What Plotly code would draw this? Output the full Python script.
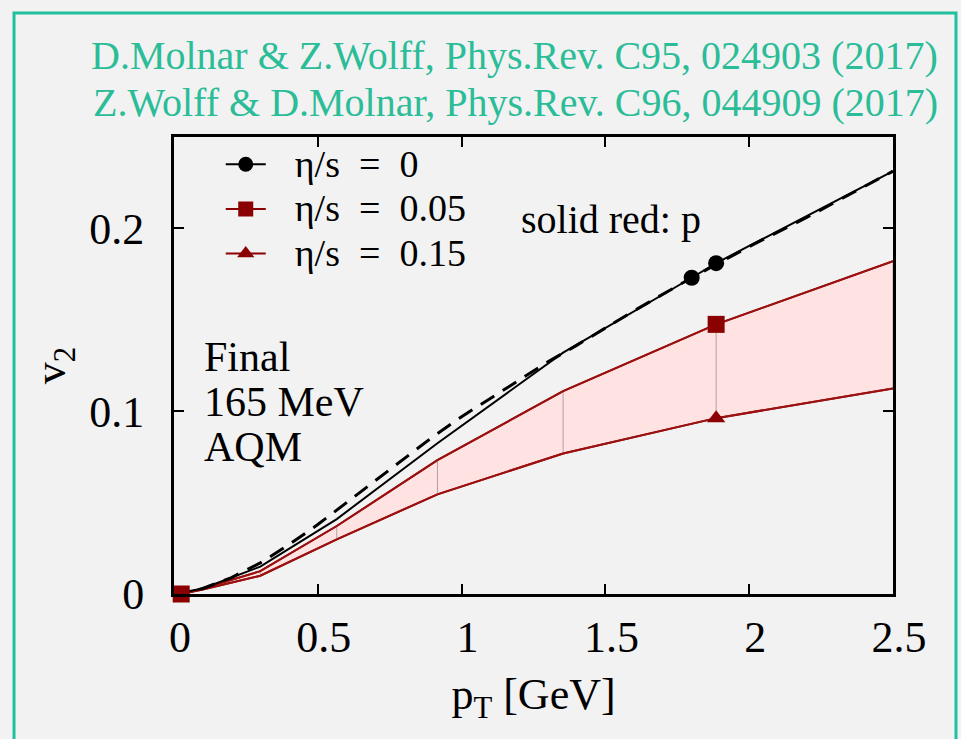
import plotly.graph_objects as go

# Elliptic flow v2 vs pT, AQM, final state at 165 MeV
pt_ideal = [0.0, 0.1, 0.3, 0.566, 0.916, 1.353, 1.8, 1.885, 2.5]
v2_ideal = [0.0, 0.003, 0.015, 0.041, 0.0825, 0.132, 0.173, 0.181, 0.2313]
ideal_marked = [1.8, 1.885]
ideal_marked_v2 = [0.173, 0.181]

# dashed reference curve (eta/s = 0)
pt_dash = [0.0, 0.1, 0.2, 0.3, 0.4, 0.5, 0.6, 0.7, 0.8, 0.9, 1.0, 1.1, 1.2, 1.3,
           1.4, 1.6, 1.8, 2.0, 2.2, 2.5]
v2_dash = [0.0, 0.003, 0.009, 0.017, 0.027, 0.038, 0.050, 0.062, 0.074, 0.086, 0.097,
           0.107, 0.117, 0.127, 0.136, 0.155, 0.173, 0.190, 0.206, 0.2313]

pt_visc = [0.025, 0.1, 0.3, 0.566, 0.916, 1.353, 1.885, 2.5]
v2_eta005 = [0.0, 0.003, 0.0125, 0.0372, 0.0732, 0.111, 0.1475, 0.1821]
v2_eta015 = [0.0, 0.0025, 0.0100, 0.0299, 0.0545, 0.0769, 0.0962, 0.1124]
visc_marked_idx = [0, 6]
eta015_marked_idx = [6]

x_ticks = [0, 0.5, 1, 1.5, 2, 2.5]
x_ticklabels = ["0", "0.5", "1", "1.5", "2", "2.5"]
y_ticks = [0, 0.1, 0.2]
y_ticklabels = ["0", "0.1", "0.2"]

legend_names = ["η/s\u2002=\u20020", "η/s\u2002=\u20020.05", "η/s\u2002=\u20020.15"]
citations = ["D.Molnar &amp; Z.Wolff, Phys.Rev. C95, 024903 (2017)",
             "Z.Wolff &amp; D.Molnar, Phys.Rev. C96, 044909 (2017)"]
label_lines = ["Final", "165 MeV", "AQM"]

BG = "#f2f2f2"
DARKRED = "#8b0000"
LINERED = "#9b1010"
PINK = "#ffe3e3"
TEAL = "#2bbc98"
SERIF = "Liberation Serif"

fig = go.Figure()

# shaded band between the two viscous results
fig.add_trace(go.Scatter(x=pt_visc, y=v2_eta015, mode="lines",
                         line=dict(color=LINERED, width=2), showlegend=False,
                         hoverinfo="skip"))
fig.add_trace(go.Scatter(x=pt_visc, y=v2_eta005, mode="lines", fill="tonexty",
                         fillcolor=PINK, line=dict(color=LINERED, width=2),
                         showlegend=False))

# thin connectors between the band edges
cx, cy = [], []
for p, lo, hi in zip(pt_visc[1:], v2_eta015[1:], v2_eta005[1:]):
    cx += [p, p, None]
    cy += [lo, hi, None]
fig.add_trace(go.Scatter(x=cx, y=cy, mode="lines",
                         line=dict(color="#b0a0a0", width=1), showlegend=False,
                         hoverinfo="skip"))
# redraw band edges on top of connectors
fig.add_trace(go.Scatter(x=pt_visc, y=v2_eta015, mode="lines",
                         line=dict(color=LINERED, width=2), showlegend=False))
fig.add_trace(go.Scatter(x=pt_visc, y=v2_eta005, mode="lines",
                         line=dict(color=LINERED, width=2), showlegend=False))

# ideal results
fig.add_trace(go.Scatter(x=pt_dash, y=v2_dash, mode="lines",
                         line=dict(color="black", width=3, dash="16px,10px"),
                         showlegend=False))
fig.add_trace(go.Scatter(x=pt_ideal, y=v2_ideal, mode="lines",
                         line=dict(color="black", width=2), showlegend=False))
fig.add_trace(go.Scatter(x=ideal_marked, y=ideal_marked_v2, mode="markers",
                         marker=dict(symbol="circle", size=16, color="black"),
                         showlegend=False))

# markers on the viscous curves
fig.add_trace(go.Scatter(x=[pt_visc[i] for i in visc_marked_idx],
                         y=[v2_eta005[i] for i in visc_marked_idx], mode="markers",
                         marker=dict(symbol="square", size=17, color=DARKRED),
                         cliponaxis=False, showlegend=False))
fig.add_trace(go.Scatter(x=[pt_visc[i] for i in eta015_marked_idx],
                         y=[v2_eta015[i] for i in eta015_marked_idx], mode="markers",
                         marker=dict(symbol="triangle-up", size=16, color=DARKRED),
                         showlegend=False))

# legend entries (row pitch set by legend font, glyphs enlarged via span)
leg_styles = [("black", "circle"), (DARKRED, "square"), (DARKRED, "triangle-up")]
span_style = "font-family:'Liberation Serif',serif;font-size:38px"
for name, (col, sym) in zip(legend_names, leg_styles):
    fig.add_trace(go.Scatter(
        x=[None], y=[None], mode="lines+markers",
        name="\u00a0\u00a0\u00a0<span style=\"" + span_style + "\">" + name + "</span>",
        line=dict(color=col, width=2),
        marker=dict(symbol=sym, size=15, color=col)))

axis_common = dict(showline=True, linecolor="black", linewidth=3, mirror="ticks",
                   ticks="inside", ticklen=10, tickwidth=2, tickcolor="black",
                   showgrid=False, zeroline=False,
                   tickfont=dict(family=SERIF, size=44, color="black"))

fig.update_xaxes(range=[0, 2.5], tickvals=x_ticks, ticktext=x_ticklabels,
                 ticklabelstandoff=2, ticklabelshift=6,
                 title=dict(text="p<sub>T</sub> [GeV]", standoff=18,
                            font=dict(family=SERIF, size=44, color="black")),
                 **axis_common)
fig.update_yaxes(range=[0, 0.25], tickvals=y_ticks, ticktext=y_ticklabels,
                 ticklabelstandoff=18,
                 title=dict(text="v<sub>2</sub>", standoff=10,
                            font=dict(family=SERIF, size=44, color="black")),
                 **axis_common)

annotations = []
for txt, yv in zip(label_lines, [0.1295, 0.1049, 0.0803]):
    annotations.append(dict(x=0.098, y=yv, xref="x", yref="y", text=txt,
                            showarrow=False, xanchor="left", yanchor="middle",
                            font=dict(family=SERIF, size=42, color="black")))
annotations.append(dict(x=1.2, y=0.205, xref="x", yref="y", text="solid red: p",
                        showarrow=False, xanchor="left", yanchor="middle",
                        font=dict(family=SERIF, size=40, color="black")))
for txt, yp in zip(citations, [1.1794, 1.0744]):
    annotations.append(dict(x=1.0654, y=yp, xref="paper", yref="paper", text=txt,
                            showarrow=False, xanchor="right", yanchor="middle",
                            font=dict(family=SERIF, size=40, color=TEAL)))

fig.update_layout(
    width=961, height=739,
    margin=dict(l=174, r=68, t=137, b=145),
    paper_bgcolor=BG, plot_bgcolor=BG,
    annotations=annotations,
    legend=dict(x=0.065, y=1.0, xanchor="left", yanchor="top",
                bgcolor="rgba(0,0,0,0)", borderwidth=0, traceorder="normal",
                font=dict(family=SERIF, size=32, color="black"),
                itemwidth=40, tracegroupgap=0),
    shapes=[dict(type="rect", xref="paper", yref="paper",
                 x0=-0.2225, x1=1.0876, y0=-0.35, y1=1.2713,
                 line=dict(color="#1fc09e", width=3), layer="below")],
    showlegend=True,
)

fig.write_html("out.html")
